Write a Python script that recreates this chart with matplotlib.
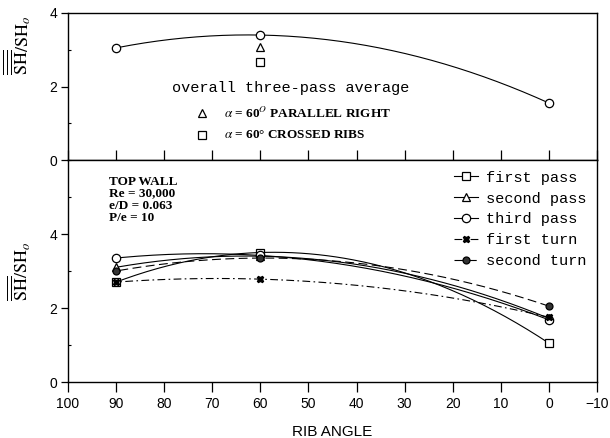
import numpy as np
import matplotlib
matplotlib.use("Agg")
import matplotlib.pyplot as plt
from matplotlib.ticker import MultipleLocator

plt.rcParams["mathtext.fontset"] = "stix"

# Rib angle positions (degrees)
angles = [90, 60, 0]

# Overall three-pass average
overall_avg = [3.05, 3.4, 1.55]
parallel_right_60 = [3.07]
crossed_ribs_60 = [2.67]

# Top wall regional averages
series_names = ["first pass", "second pass", "third pass", "first turn", "second turn"]
first_pass = [2.7, 3.5, 1.05]
second_pass = [3.1, 3.4, 1.72]
third_pass = [3.35, 3.42, 1.68]
first_turn = [2.7, 2.78, 1.75]
second_turn = [3.0, 3.35, 2.05]

x_ticks = [100, 90, 80, 70, 60, 50, 40, 30, 20, 10, 0, -10]
x_tick_labels = ["100", "90", "80", "70", "60", "50", "40", "30", "20", "10", "0", "\u221210"]

mono = "Liberation Mono"
serif = "Liberation Serif"
sans = "Liberation Sans"

fig = plt.figure(figsize=(6.10, 4.38), dpi=100)
left, right = 68 / 610, 597 / 610
y_mid = 1 - 160 / 438
ax_top = fig.add_axes([left, y_mid, right - left, (1 - 13 / 438) - y_mid])
ax_bot = fig.add_axes([left, 1 - 382 / 438, right - left, y_mid - (1 - 382 / 438)])


def smooth(ax, xs, ys, **kw):
    coef = np.polyfit(xs, ys, 2)
    xx = np.linspace(min(xs), max(xs), 200)
    ax.plot(xx, np.polyval(coef, xx), color="black", **kw)


for ax in (ax_top, ax_bot):
    ax.set_xlim(100, -10)
    for s in ax.spines.values():
        s.set_linewidth(1.0)
    ax.yaxis.set_minor_locator(MultipleLocator(1))
    ax.tick_params(axis="y", which="major", direction="out", length=5, width=0.9,
                   labelsize=10, pad=3)
    ax.tick_params(axis="y", which="minor", direction="in", length=2, width=0.8)

# ---- top panel: overall average ----
ax_top.set_ylim(0, 4)
ax_top.set_yticks([0, 2, 4])
ax_top.set_yticklabels(["0", "2", "4"], fontfamily=sans, fontsize=10)
ax_top.set_xticks([])
smooth(ax_top, angles, overall_avg, lw=0.8)
ax_top.plot(angles, overall_avg, ls="none", marker="o", ms=6, mfc="white",
            mec="black", mew=0.9)
ax_top.plot([60], parallel_right_60, ls="none", marker="^", ms=6, mfc="white",
            mec="black", mew=0.9)
ax_top.plot([60], crossed_ribs_60, ls="none", marker="s", ms=6, mfc="white",
            mec="black", mew=0.9)
ax_top.text(0.42, 0.49, "overall three-pass average", transform=ax_top.transAxes,
            ha="center", va="center", fontfamily=mono, fontsize=11)
ax_top.plot([0.253], [0.32], transform=ax_top.transAxes, marker="^", ms=6,
            mfc="white", mec="black", mew=0.9, ls="none")
ax_top.plot([0.253], [0.17], transform=ax_top.transAxes, marker="s", ms=6,
            mfc="white", mec="black", mew=0.9, ls="none")
ax_top.text(0.295, 0.32, r"$\alpha$ = 60$^{O}$ PARALLEL RIGHT", transform=ax_top.transAxes,
            ha="left", va="center", fontfamily=serif, fontsize=9.5, fontweight="bold")
ax_top.text(0.295, 0.17, r"$\alpha$ = 60° CROSSED RIBS", transform=ax_top.transAxes,
            ha="left", va="center", fontfamily=serif, fontsize=9.5, fontweight="bold")
ax_top.set_ylabel(r"$\overline{\overline{\overline{\mathrm{SH}}}}/\mathrm{SH}_o$",
                  fontsize=13)
ax_top.yaxis.set_label_coords(-0.066, 0.78)

# ---- bottom panel: regional averages ----
ax_bot.set_ylim(0, 6)
ax_bot.set_yticks([0, 2, 4])
ax_bot.set_yticklabels(["0", "2", "4"], fontfamily=sans, fontsize=10)
ax_bot.set_xticks(x_ticks)
ax_bot.set_xticklabels(x_tick_labels, fontfamily=sans, fontsize=10)
ax_bot.tick_params(axis="x", direction="out", length=7, width=0.9, pad=4,
                   top=True, labeltop=False)
ax_bot.spines["top"].set_visible(True)

styles = [
    (first_pass, dict(ls="-"), dict(marker="s", mfc="white")),
    (second_pass, dict(ls="-"), dict(marker="^", mfc="white")),
    (third_pass, dict(ls="-"), dict(marker="o", mfc="white")),
    (first_turn, dict(ls=(0, (7, 3, 1.5, 3))), dict(marker="X", mfc="black", ms=5)),
    (second_turn, dict(ls=(0, (8, 4))), dict(marker="o", mfc="#333333", ms=5)),
]
handles = []
for name, (vals, lkw, mkw) in zip(series_names, styles):
    smooth(ax_bot, angles, vals, lw=0.8, **lkw)
    mk = dict(ms=6, mec="black", mew=0.9)
    mk.update(mkw)
    ax_bot.plot(angles, vals, ls="none", **mk)
    h, = ax_bot.plot([], [], color="black", lw=0.8, label=name, **lkw, **mk)
    handles.append(h)

leg = ax_bot.legend(handles=handles, loc="upper right", frameon=False,
                    prop={"family": mono, "size": 11}, handlelength=1.6,
                    handletextpad=0.5, labelspacing=0.45,
                    bbox_to_anchor=(1.0, 1.0), borderaxespad=0.3)

ax_bot.text(0.078, 0.93, "TOP WALL\nRe = 30,000\ne/D = 0.063\nP/e = 10",
            transform=ax_bot.transAxes, ha="left", va="top", fontfamily=serif,
            fontsize=9.5, fontweight="bold", linespacing=1.0)
ax_bot.set_ylabel(r"$\overline{\overline{\mathrm{SH}}}/\mathrm{SH}_o$", fontsize=13)
ax_bot.yaxis.set_label_coords(-0.066, 0.5)
ax_bot.set_xlabel("RIB ANGLE", fontfamily=sans, fontsize=11, labelpad=10)

fig.savefig("out.png", dpi=100, facecolor="white")
